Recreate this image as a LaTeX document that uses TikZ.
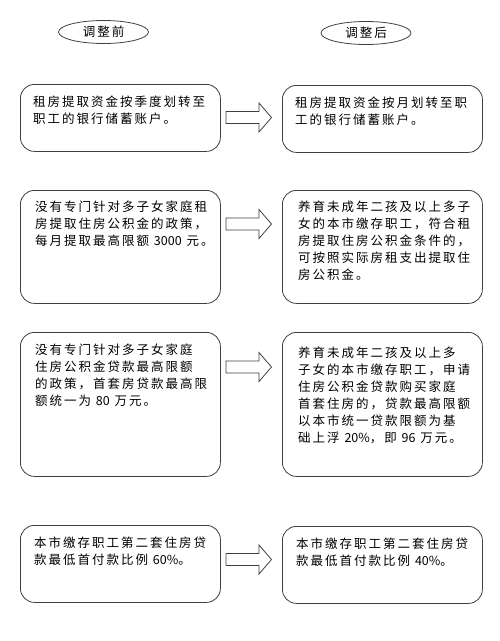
\documentclass[tikz,border=0pt]{standalone}
\usepackage{fontspec}
\newfontfamily\cjk[LetterSpace=16]{Noto Sans CJK SC}
\newfontfamily\num{Noto Sans CJK SC}
\usetikzlibrary{shapes.geometric}

\begin{document}
\begin{tikzpicture}[x=1pt,y=-1pt,
  rbox/.style={draw=black!75,line width=0.8pt,rounded corners=14pt,minimum width=200pt,anchor=north west,inner sep=0pt},
  txt/.style={anchor=north west,inner sep=0pt,align=left,font=\cjk\fontsize{12.5}{17}\selectfont},
  oval/.style={draw=black!75,line width=0.8pt,ellipse,minimum width=90pt,minimum height=23pt,inner sep=0pt,font=\cjk\fontsize{12.5}{17}\selectfont},
  barrow/.style={draw=black!75,line width=0.8pt,fill=white}]
\useasboundingbox (0,0) rectangle (500,641);
% headings
\node[oval] (before) at (103.5,32) {调整前};
\node[oval] (after) at (366,33) {调整后};
% left column
\node[rbox,minimum height=67pt] (l1) at (20,84) {};
\node[rbox,minimum height=113pt] (l2) at (20,190) {};
\node[rbox,minimum height=144pt] (l3) at (20,332) {};
\node[rbox,minimum height=77pt] (l4) at (20,525) {};
% right column
\node[rbox,minimum height=67pt] (r1) at (282,85) {};
\node[rbox,minimum height=113pt] (r2) at (282,190) {};
\node[rbox,minimum height=144pt] (r3) at (282,332) {};
\node[rbox,minimum height=77pt] (r4) at (282,526) {};
% texts
\node[txt] (l1t) at ([shift={(13,12)}]l1.north west) {租房提取资金按季度划转至\\职工的银行储蓄账户。};
\node[txt] (l2t) at ([shift={(15,11)}]l2.north west) {没有专门针对多子女家庭租\\房提取住房公积金的政策，\\每月提取最高限额 {\num 3000} 元。};
\node[txt] (l3t) at ([shift={(15,12)}]l3.north west) {没有专门针对多子女家庭\\住房公积金贷款最高限额\\的政策，首套房贷款最高限\\额统一为 {\num 80} 万元。};
\node[txt] (l4t) at ([shift={(14,12)}]l4.north west) {本市缴存职工第二套住房贷\\款最低首付款比例 {\num 60\%}。};
\node[txt] (r1t) at ([shift={(13,12)}]r1.north west) {租房提取资金按月划转至职\\工的银行储蓄账户。};
\node[txt] (r2t) at ([shift={(16,11)}]r2.north west) {养育未成年二孩及以上多子\\女的本市缴存职工，符合租\\房提取住房公积金条件的，\\可按照实际房租支出提取住\\房公积金。};
\node[txt] (r3t) at ([shift={(16,15)}]r3.north west) {养育未成年二孩及以上多\\子女的本市缴存职工，申请\\住房公积金贷款购买家庭\\首套住房的，贷款最高限额\\以本市统一贷款限额为基\\础上浮 {\num 20\%}，即 {\num 96} 万元。};
\node[txt] (r4t) at ([shift={(14,12)}]r4.north west) {本市缴存职工第二套住房贷\\款最低首付款比例 {\num 40\%}。};
% block arrows
\foreach \c in {117.5,224,367,559.5}
  \draw[barrow] (226,\c-6) -- (259,\c-6) -- (259,\c-14.5) -- (271.5,\c)
    -- (259,\c+14.5) -- (259,\c+6) -- (226,\c+6) -- cycle;
\end{tikzpicture}
\end{document}
